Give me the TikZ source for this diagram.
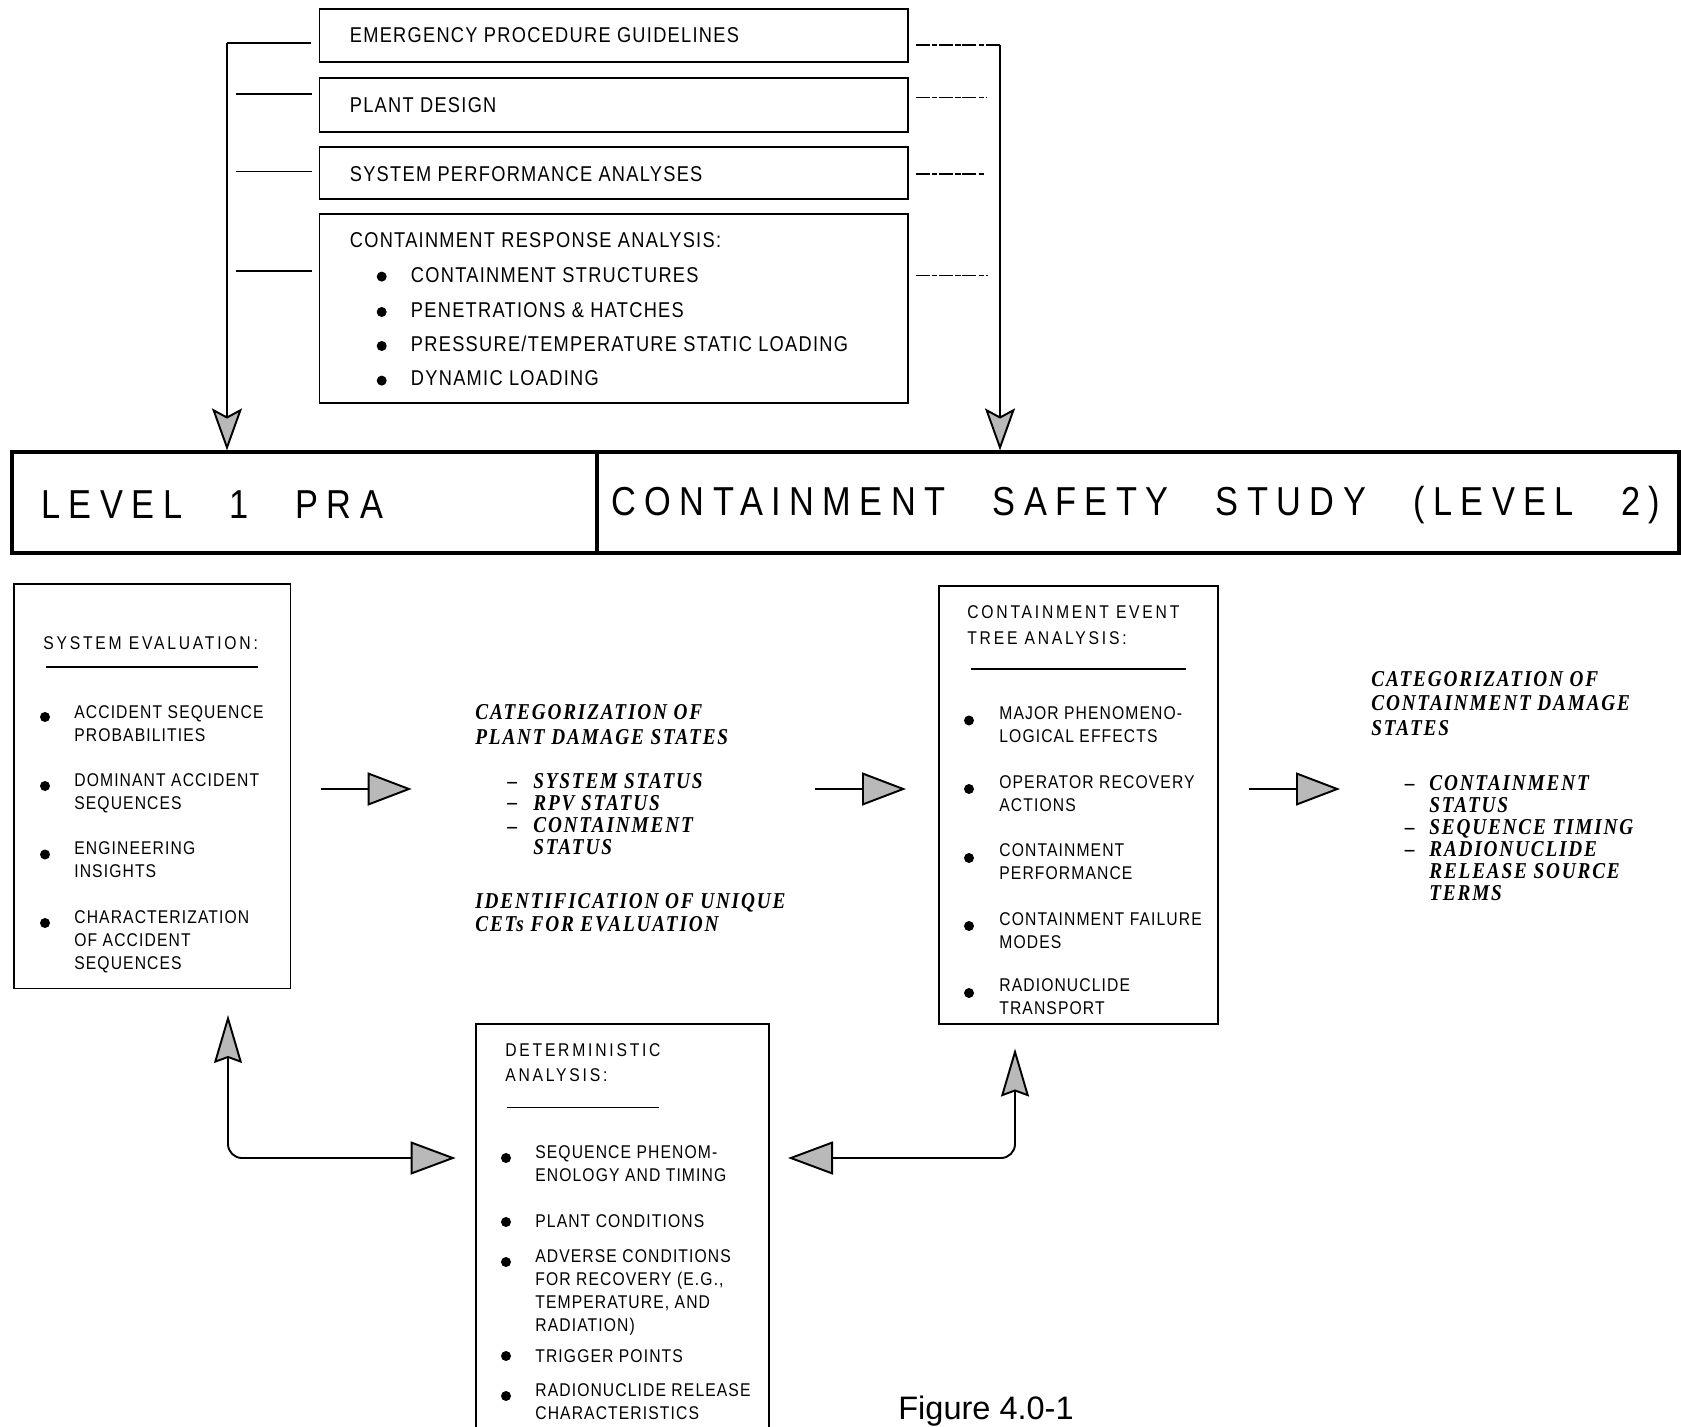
\documentclass[tikz,border=0pt]{standalone}
\usepackage{fontspec}
\setmainfont{Liberation Sans}
\newfontfamily\boxfont[FakeStretch=0.85,LetterSpace=6]{Liberation Sans}
\newfontfamily\headfont[FakeStretch=0.85,LetterSpace=15]{Liberation Sans}
\newfontfamily\bannerfont[FakeStretch=0.85,LetterSpace=21]{Liberation Sans}
\newfontfamily\catfont[FakeStretch=0.85,LetterSpace=8]{Liberation Serif}
\newcommand\bannergap{\hspace{16.5pt}}
\usetikzlibrary{arrows.meta,fit}

\begin{document}
\begin{tikzpicture}[x=0.2mm,y=-0.2mm,
  boxframe/.style={draw,line width=1pt,inner sep=0pt},
  banbox/.style={draw,line width=1.8pt,inner sep=0pt},
  toptext/.style={anchor=west,inner sep=0pt,font=\boxfont\fontsize{12.2}{13}\selectfont},
  itemtext/.style={anchor=north west,inner sep=0pt,align=left,font=\boxfont\fontsize{10.5}{13.1}\selectfont},
  headtext/.style={anchor=north west,inner sep=0pt,align=left,font=\headfont\fontsize{10.5}{14.5}\selectfont},
  cattext/.style={anchor=north west,inner sep=0pt,align=left,font=\catfont\bfseries\itshape\fontsize{12.9}{14.3}\selectfont},
  catdash/.style={anchor=base west,inner sep=0pt,font=\catfont\bfseries\fontsize{12.9}{14.3}\selectfont},
  bannertext/.style={anchor=west,inner sep=0pt,font=\bannerfont\fontsize{23}{26}\selectfont},
  bulletdot/.style={circle,fill=black,inner sep=0pt,minimum size=2mm},
  ulrule/.style={line width=0.6pt},
  feed/.style={line width=1.1pt},
  stub/.style={line width=0.9pt},
  dstub/.style={line width=0.9pt,dash pattern=on 8pt off 1.2pt on 3pt off 1pt},
  downtip/.style={-{Stealth[length=8.4mm,width=6mm,inset=1.6mm,fill=gray!55]}},
  flowarrow/.style={line width=1.1pt,-{Triangle[length=8.8mm,width=6.6mm,fill=gray!55]}},
  returnarrow/.style={line width=1.1pt,rounded corners=2.8mm,
     {Stealth[length=9.6mm,width=5.6mm,inset=1mm,fill=gray!55]}-{Triangle[length=9mm,width=6.6mm,fill=gray!55]}},
]
\useasboundingbox (0,0) rectangle (1681,1427);

% ---------- input boxes ----------
\node[boxframe,fit={(319.5,9) (908,62)}] (epg) {};
\node[toptext] (epgt) at (349.5,35.5) {EMERGENCY PROCEDURE GUIDELINES};
\node[boxframe,fit={(319.5,78) (908,132)}] (pd) {};
\node[toptext] (pdt) at (349.5,105) {PLANT DESIGN};
\node[boxframe,fit={(319.5,147) (908,199)}] (spa) {};
\node[toptext] (spat) at (349.5,174) {SYSTEM PERFORMANCE ANALYSES};
\node[boxframe,fit={(319.5,214) (908,403)}] (cra) {};
\node[toptext] (crat) at (349.5,240) {CONTAINMENT RESPONSE ANALYSIS:};
\node[bulletdot] (crb1) at (381.7,276.6) {};
\node[bulletdot] (crb2) at (381.7,312) {};
\node[bulletdot] (crb3) at (381.7,346) {};
\node[bulletdot] (crb4) at (381.7,380.6) {};
\node[toptext] (cri1) at (410.6,275.5) {CONTAINMENT STRUCTURES};
\node[toptext] (cri2) at (410.6,310) {PENETRATIONS \& HATCHES};
\node[toptext] (cri3) at (410.6,344) {PRESSURE/TEMPERATURE STATIC LOADING};
\node[toptext] (cri4) at (410.6,378.5) {DYNAMIC LOADING};

% ---------- level bar ----------
\node[banbox,fit={(12,452) (597,553)}] (lvlone) {};
\node[banbox,fit={(597,452) (1679,553)}] (lvltwo) {};
\node[bannertext] (lvlonet) at (41,505) {LEVEL\bannergap{} 1\bannergap{} PRA};
\node[bannertext] (lvltwot) at (611,505) {CONTAINMENT\bannergap{} SAFETY\bannergap{} STUDY\bannergap{} (LEVEL\bannergap{} 2)};

% ---------- feeds into level 1 ----------
\coordinate (lfa) at (227,43);
\coordinate (lfb) at (311,43);
\draw[feed] (lfb) -- (lfa);
\draw[feed,downtip] (lfa) -- (lfa |- lvlone.north);
\coordinate (ls1a) at (236,94);    \coordinate (ls1b) at (312,94);
\coordinate (ls2a) at (236,171.5); \coordinate (ls2b) at (312,171.5);
\coordinate (ls3a) at (236,271);   \coordinate (ls3b) at (312,271);
\draw[stub] (ls1a) -- (ls1b);
\draw[stub] (ls2a) -- (ls2b);
\draw[stub] (ls3a) -- (ls3b);

% ---------- feeds into level 2 ----------
\coordinate (rfa) at (916,45);
\coordinate (rfb) at (1000,45);
\draw[dstub] (rfa) -- (rfb);
\draw[feed,downtip] (rfb) -- (rfb |- lvltwo.north);
\coordinate (rs1a) at (916,97.5);  \coordinate (rs1b) at (986,97.5);
\coordinate (rs2a) at (916,174);   \coordinate (rs2b) at (984,174);
\coordinate (rs3a) at (916,275.5); \coordinate (rs3b) at (988,275.5);
\draw[dstub] (rs1a) -- (rs1b);
\draw[dstub] (rs2a) -- (rs2b);
\draw[dstub] (rs3a) -- (rs3b);

% ---------- system evaluation ----------
\node[boxframe,fit={(14,584) (290.5,988.5)}] (sev) {};
\node[headtext,anchor=west] (sevt) at (43,643) {SYSTEM EVALUATION:};
\draw[ulrule] (46,667) -- (258,667);
\node[bulletdot] (sevb1) at (45,717) {};
\node[bulletdot] (sevb2) at (45,786) {};
\node[bulletdot] (sevb3) at (45,854.5) {};
\node[bulletdot] (sevb4) at (45,923) {};
\node[itemtext] (sevi1) at (74,705.5) {ACCIDENT SEQUENCE\\PROBABILITIES};
\node[itemtext] (sevi2) at (74,773) {DOMINANT ACCIDENT\\SEQUENCES};
\node[itemtext] (sevi3) at (74,841.5) {ENGINEERING\\INSIGHTS};
\node[itemtext] (sevi4) at (74,910) {CHARACTERIZATION\\OF ACCIDENT\\SEQUENCES};

% ---------- plant damage states ----------
\coordinate (fa1) at (320.5,789);
\coordinate (fb1) at (411.7,789);
\draw[flowarrow] (fa1) -- (fb1);
\node[cattext] (pdst) at (475,704.5) {CATEGORIZATION OF\\PLANT DAMAGE STATES};
\node[cattext,font=\catfont\bfseries\itshape\fontsize{12.9}{12.6}\selectfont] (pdsl) at (533,773) {SYSTEM STATUS\\RPV STATUS\\CONTAINMENT\\STATUS};
\node[catdash] (pdd1) at (507,788) {\textendash};
\node[catdash] (pdd2) at (507,809.5) {\textendash};
\node[catdash] (pdd3) at (507,833) {\textendash};
\node[cattext,font=\catfont\bfseries\itshape\fontsize{12.9}{13.4}\selectfont] (cets) at (475,893) {IDENTIFICATION OF UNIQUE\\CETs FOR EVALUATION};

\coordinate (fa2) at (815,789);
\coordinate (fb2) at (906,789);
\draw[flowarrow] (fa2) -- (fb2);

% ---------- containment event tree ----------
\node[boxframe,fit={(939,586) (1218,1024)}] (cet) {};
\node[headtext] (cett) at (967,605.5) {CONTAINMENT EVENT\\TREE ANALYSIS:};
\draw[ulrule] (971,669) -- (1186,669);
\node[bulletdot] (cetb1) at (969,720.5) {};
\node[bulletdot] (cetb2) at (969,789) {};
\node[bulletdot] (cetb3) at (969,858) {};
\node[bulletdot] (cetb4) at (969,926) {};
\node[bulletdot] (cetb5) at (969,993) {};
\node[itemtext] (ceti1) at (999,706.5) {MAJOR PHENOMENO-\\LOGICAL EFFECTS};
\node[itemtext] (ceti2) at (999,775) {OPERATOR RECOVERY\\ACTIONS};
\node[itemtext] (ceti3) at (999,843.5) {CONTAINMENT\\PERFORMANCE};
\node[itemtext] (ceti4) at (999,912.5) {CONTAINMENT FAILURE\\MODES};
\node[itemtext] (ceti5) at (999,978.5) {RADIONUCLIDE\\TRANSPORT};

% ---------- containment damage states ----------
\coordinate (fa3) at (1249,789);
\coordinate (fb3) at (1340,789);
\draw[flowarrow] (fa3) -- (fb3);
\node[cattext,font=\catfont\bfseries\itshape\fontsize{12.9}{14}\selectfont] (cdst) at (1371,671) {CATEGORIZATION OF\\CONTAINMENT DAMAGE\\STATES};
\node[cattext,font=\catfont\bfseries\itshape\fontsize{12.9}{12.5}\selectfont] (cdsl) at (1429,775) {CONTAINMENT\\STATUS\\SEQUENCE TIMING\\RADIONUCLIDE\\RELEASE SOURCE\\TERMS};
\node[catdash] (cdd1) at (1404.5,790) {\textendash};
\node[catdash] (cdd2) at (1404.5,834) {\textendash};
\node[catdash] (cdd3) at (1404.5,856.5) {\textendash};

% ---------- deterministic analysis (runs off the page) ----------
\draw[line width=1pt] (476,1427) |- (768.7,1024) -- (768.7,1427);
\coordinate (det) at (622,1024);
\node[headtext] (dett) at (505,1043) {DETERMINISTIC\\ANALYSIS:};
\draw[ulrule] (507,1107.5) -- (659,1107.5);
\node[bulletdot] (detb1) at (506,1158) {};
\node[bulletdot] (detb2) at (506,1222) {};
\node[bulletdot] (detb3) at (506,1262) {};
\node[bulletdot] (detb4) at (506,1356) {};
\node[bulletdot] (detb5) at (506,1396) {};
\node[itemtext] (deti1) at (535,1145) {SEQUENCE PHENOM-\\ENOLOGY AND TIMING};
\node[itemtext] (deti2) at (535,1214.5) {PLANT CONDITIONS};
\node[itemtext] (deti3) at (535,1249) {ADVERSE CONDITIONS\\FOR RECOVERY (E.G.,\\TEMPERATURE, AND\\RADIATION)};
\node[itemtext] (deti4) at (535,1349.5) {TRIGGER POINTS};
\node[itemtext] (deti5) at (535,1383) {RADIONUCLIDE RELEASE\\CHARACTERISTICS};

% ---------- two-way links ----------
\coordinate (rla) at (228,1015);
\coordinate (rlb) at (455.6,1158);
\draw[returnarrow] (rla) |- (rlb);
\coordinate (rra) at (1015,1048.5);
\coordinate (rrb) at (788,1158);
\draw[returnarrow] (rra) |- (rrb);

% ---------- caption ----------
\node[anchor=base west,inner sep=0pt,font=\fontsize{18.5}{20}\selectfont] (cap) at (898,1419) {Figure 4.0-1};
\end{tikzpicture}
\end{document}
